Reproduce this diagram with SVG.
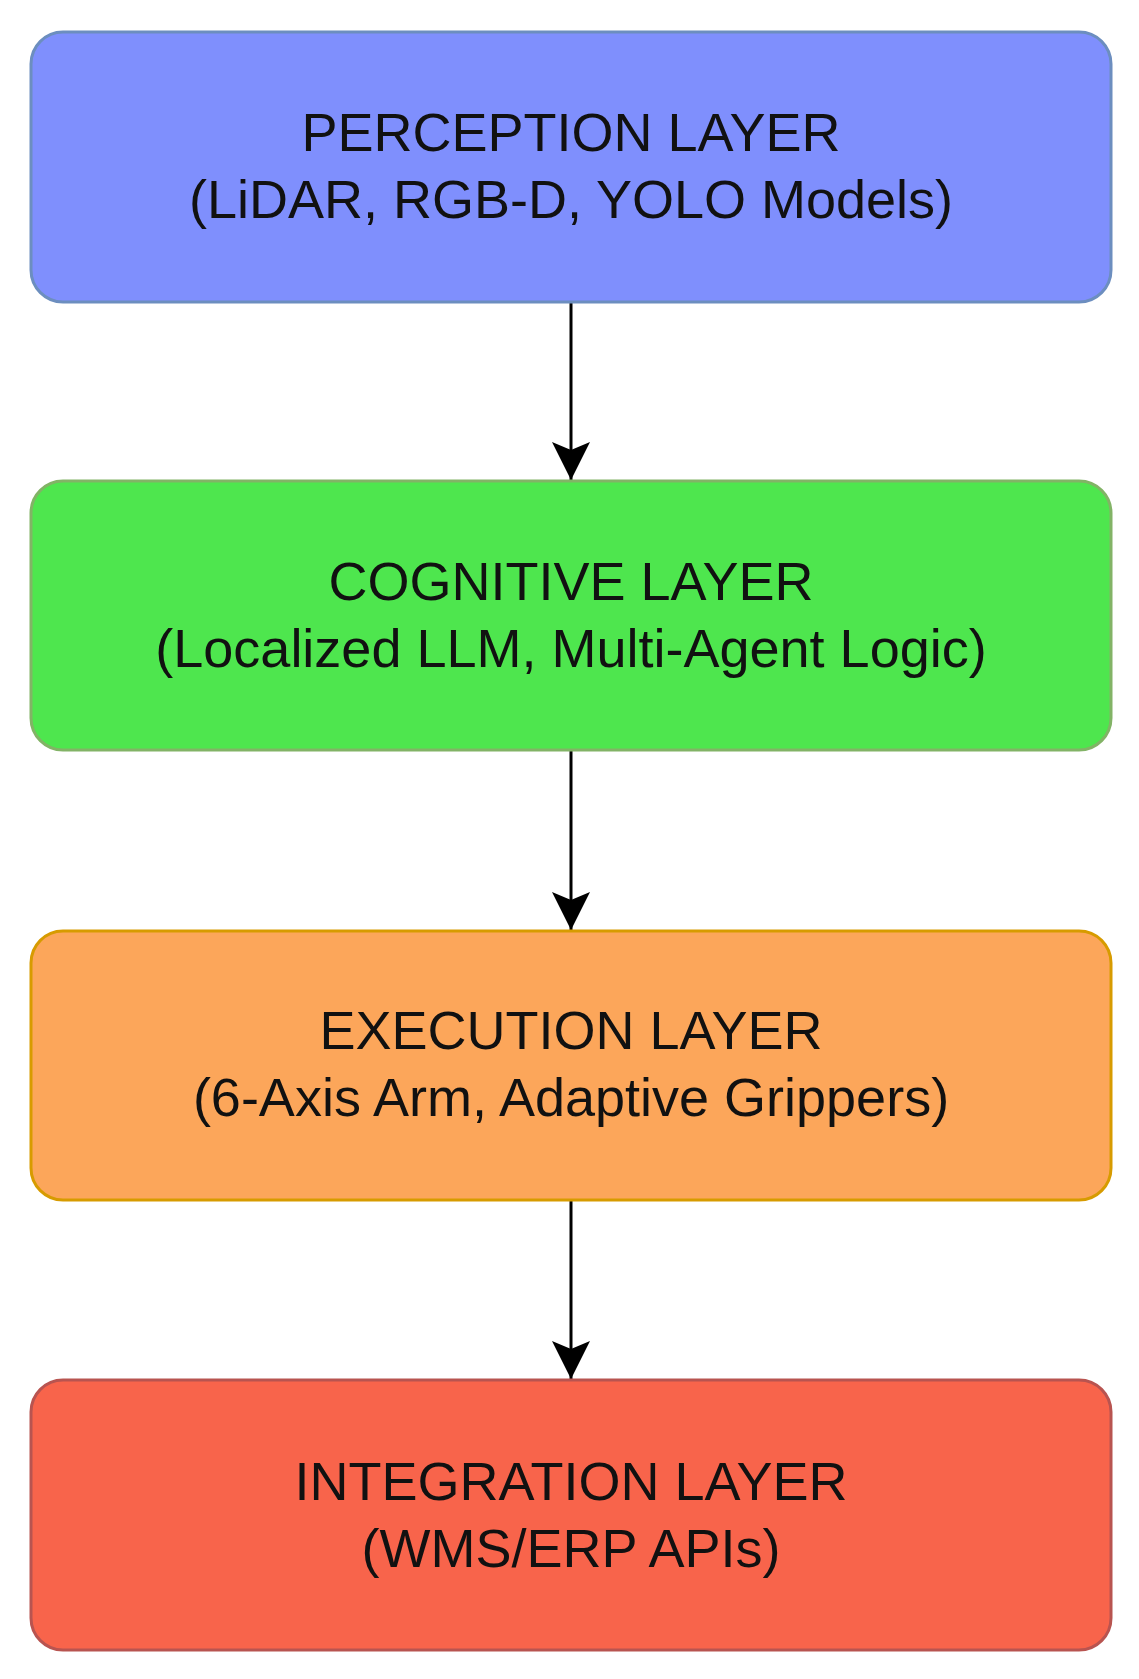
<svg xmlns="http://www.w3.org/2000/svg" width="1139" height="1679" viewBox="0 0 1139 1679">
<style>
.box{stroke-width:3}
.t{font-family:"Liberation Sans",Arial,sans-serif;font-size:54px;fill:#111;text-anchor:middle}
.c{stroke:#000;stroke-width:3;fill:none}
</style>
<defs>
<marker id="arr" markerUnits="userSpaceOnUse" markerWidth="40" markerHeight="40" viewBox="0 0 40 40" refX="38" refY="20" orient="auto">
<path d="M0,1 L38,20 L0,39 L8,20 Z" fill="#000"/>
</marker>
</defs>
<rect width="1139" height="1679" fill="#fff"/>
<g id="connectors">
<line class="c" x1="571" y1="302" x2="571" y2="480" marker-end="url(#arr)"/>
<line class="c" x1="571" y1="750" x2="571" y2="930" marker-end="url(#arr)"/>
<line class="c" x1="571" y1="1200" x2="571" y2="1379" marker-end="url(#arr)"/>
</g>
<g id="perception">
<rect class="box" x="31" y="32" width="1080" height="270" rx="32" fill="#7f8ffd" stroke="#6c8ebf"/>
<text class="t" x="571" y="151">PERCEPTION LAYER</text>
<text class="t" x="571" y="218">(LiDAR, RGB-D, YOLO Models)</text>
</g>
<g id="cognitive">
<rect class="box" x="31" y="481" width="1080" height="269" rx="32" fill="#4ee64e" stroke="#82b366"/>
<text class="t" x="571" y="600">COGNITIVE LAYER</text>
<text class="t" x="571" y="667">(Localized LLM, Multi-Agent Logic)</text>
</g>
<g id="execution">
<rect class="box" x="31" y="931" width="1080" height="269" rx="32" fill="#fca65a" stroke="#d79b00"/>
<text class="t" x="571" y="1049">EXECUTION LAYER</text>
<text class="t" x="571" y="1116">(6-Axis Arm, Adaptive Grippers)</text>
</g>
<g id="integration">
<rect class="box" x="31" y="1380" width="1080" height="270" rx="32" fill="#f8644b" stroke="#b85450"/>
<text class="t" x="571" y="1500">INTEGRATION LAYER</text>
<text class="t" x="571" y="1567">(WMS/ERP APIs)</text>
</g>
</svg>
